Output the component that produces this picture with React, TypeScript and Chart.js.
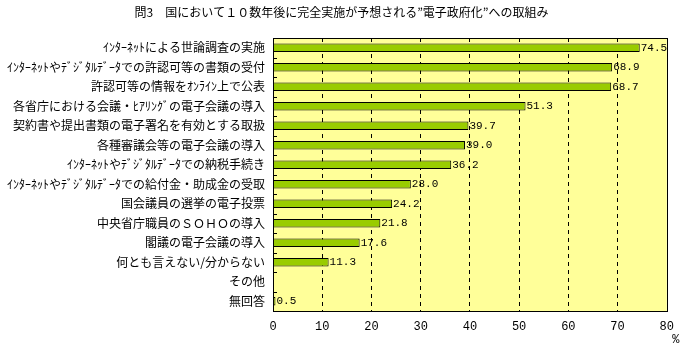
import React, { useEffect, useRef } from "react";
import { Chart, registerables } from "chart.js";

Chart.register(...registerables);

const titleText = "問3　国において１０数年後に完全実施が予想される”電子政府化”への取組み";

const categories = [
  "ｲﾝﾀｰﾈｯﾄによる世論調査の実施",
  "ｲﾝﾀｰﾈｯﾄやﾃﾞｼﾞﾀﾙﾃﾞｰﾀでの許認可等の書類の受付",
  "許認可等の情報をｵﾝﾗｲﾝ上で公表",
  "各省庁における会議・ﾋｱﾘﾝｸﾞの電子会議の導入",
  "契約書や提出書類の電子署名を有効とする取扱",
  "各種審議会等の電子会議の導入",
  "ｲﾝﾀｰﾈｯﾄやﾃﾞｼﾞﾀﾙﾃﾞｰﾀでの納税手続き",
  "ｲﾝﾀｰﾈｯﾄやﾃﾞｼﾞﾀﾙﾃﾞｰﾀでの給付金・助成金の受取",
  "国会議員の選挙の電子投票",
  "中央省庁職員のＳＯＨＯの導入",
  "閣議の電子会議の導入",
  "何とも言えない/分からない",
  "その他",
  "無回答",
];

const values = [74.5, 68.9, 68.7, 51.3, 39.7, 39.0, 36.2, 28.0, 24.2, 21.8, 17.6, 11.3, 0.2, 0.5];
const valueLabels = ["74.5", "68.9", "68.7", "51.3", "39.7", "39.0", "36.2", "28.0", "24.2", "21.8", "17.6", "11.3", "", "0.5"];
const xTicks = [0, 10, 20, 30, 40, 50, 60, 70, 80];
const unitLabel = "%";

const numFont = '"Liberation Mono", "DejaVu Sans Mono", monospace';
const jpFont = '"Noto Sans CJK JP", sans-serif';

const decorPlugin = {
  id: "decor",
  beforeDraw(chart: any) {
    const { ctx, chartArea } = chart;
    ctx.save();
    ctx.fillStyle = "#FFFF99";
    ctx.fillRect(chartArea.left, chartArea.top, chartArea.right - chartArea.left, chartArea.bottom - chartArea.top);
    ctx.restore();
  },
  afterDraw(chart: any) {
    const { ctx, chartArea, width } = chart;
    const yScale = chart.scales.y;
    ctx.save();
    ctx.strokeStyle = "#000";
    ctx.lineWidth = 1;
    ctx.strokeRect(Math.round(chartArea.left) + 0.5, Math.round(chartArea.top) + 0.5,
      Math.round(chartArea.right - chartArea.left), Math.round(chartArea.bottom - chartArea.top));
    const n = categories.length;
    for (let i = 1; i < n; i++) {
      const y = Math.round((yScale.getPixelForValue(i - 1) + yScale.getPixelForValue(i)) / 2) + 0.5;
      ctx.beginPath();
      ctx.moveTo(chartArea.left, y);
      ctx.lineTo(chartArea.left + 4, y);
      ctx.stroke();
    }
    const meta = chart.getDatasetMeta(0);
    ctx.fillStyle = "#000";
    ctx.font = "11px " + numFont;
    ctx.textBaseline = "middle";
    ctx.textAlign = "left";
    meta.data.forEach((bar: any, i: number) => {
      if (!valueLabels[i]) return;
      ctx.fillText(valueLabels[i], bar.x + 1, bar.y);
    });
    ctx.font = "12px " + numFont;
    ctx.textAlign = "center";
    ctx.fillText(unitLabel, chartArea.right + 9, chartArea.bottom + 29);
    ctx.font = "12px " + jpFont;
    ctx.textAlign = "center";
    ctx.fillText(titleText, width / 2, 12);
    ctx.restore();
  },
};

export default function App() {
  const ref = useRef<HTMLCanvasElement>(null);
  useEffect(() => {
    document.body.style.margin = "0";
    const chart = new Chart(ref.current!, {
      type: "bar",
      data: {
        labels: categories,
        datasets: [
          {
            data: values,
            backgroundColor: "#99CC00",
            borderColor: "#000000",
            borderWidth: 1,
            borderSkipped: "left",
            barPercentage: 0.43,
            categoryPercentage: 1,
          },
        ],
      },
      options: {
        indexAxis: "y",
        responsive: false,
        animation: false,
        layout: { padding: { top: 38, right: 16, left: 0, bottom: 0 } },
        plugins: { legend: { display: false }, tooltip: { enabled: false }, title: { display: false } },
        scales: {
          x: {
            min: 0,
            max: 80,
            afterBuildTicks: (scale: any) => {
              scale.ticks = xTicks.map((v) => ({ value: v }));
            },
            afterFit: (scale: any) => {
              scale.height = 42;
            },
            grid: {
              color: (c: any) => (c.tick && (c.tick.value === 0 || c.tick.value === 80) ? "rgba(0,0,0,0)" : "#000"),
              drawTicks: false,
              lineWidth: 1,
            },
            border: { display: false, dash: [4, 4] },
            ticks: { color: "#000", font: { family: numFont, size: 12 }, padding: 9, maxRotation: 0 },
          },
          y: {
            afterFit: (scale: any) => {
              scale.width = 273;
            },
            grid: { display: false, drawTicks: false },
            border: { display: false },
            ticks: { color: "#000", font: { family: jpFont, size: 12 }, padding: 8, autoSkip: false },
          },
        },
      },
      plugins: [decorPlugin],
    });
    return () => chart.destroy();
  }, []);
  return <canvas ref={ref} width={683} height={353} style={{ display: "block" }} />;
}
